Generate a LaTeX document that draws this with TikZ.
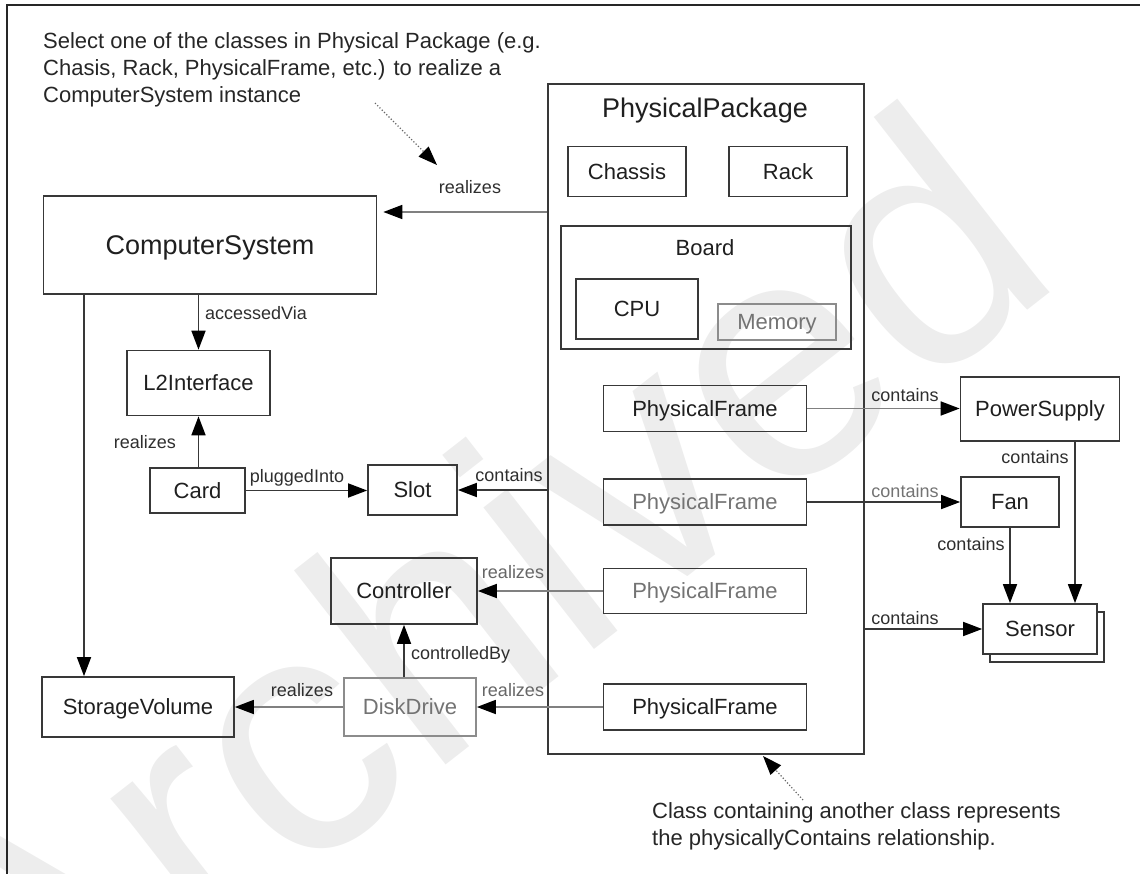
\documentclass[tikz,border=0pt]{standalone}
\usepackage{fontspec}
\setmainfont{Liberation Sans}
\usetikzlibrary{arrows.meta}
\begin{document}
\begin{tikzpicture}[x=1pt,y=-1pt,
  box/.style={draw=black!78, line width=1.7pt, inner sep=0pt,
    text=black!88, font=\fontsize{22}{25}\selectfont, text height=15.8pt, text depth=0pt},
  faded/.style={draw=black!45, text=black!55},
  bigbox/.style={box, font=\fontsize{27}{30}\selectfont, text height=19.4pt},
  title/.style={inner sep=0pt, text=black!88, text depth=0pt},
  lbl/.style={inner sep=0pt, text=black!82, font=\fontsize{18}{20}\selectfont,
    text height=13pt, text depth=0pt},
  note/.style={inner sep=0pt, text=black!85, font=\fontsize{22}{27}\selectfont, align=left},
  conn/.style={draw=black!78, line width=1.7pt,
    -{Triangle[length=19pt,width=14pt,color=black]}},
  pale/.style={draw=black!50},
  hint/.style={draw=black!60, line width=1.2pt, dotted,
    -{Triangle[length=19pt,width=14pt,color=black]}},
  stamp/.style={inner sep=0pt, text=black!7, font=\fontsize{340}{340}\selectfont},
]
\useasboundingbox (0,0) rectangle (1140,874);

% light stamp behind the drawing
\node[stamp, rotate=38, anchor=base west] (stampword) at (25,1094) {Archived};

% page frame
\draw[line width=1.6pt, black!85] (7,874) -- (7,5) -- (1140,5);

% explanatory notes
\node[note, anchor=north west] (note1) at (43,32)
  {Select one of the classes in Physical Package (e.g.\\Chasis, Rack, PhysicalFrame, etc.) to realize a\\ComputerSystem instance};
\node[note, anchor=north west] (note2) at (652,802)
  {Class containing another class represents\\the physicallyContains relationship.};

% the physical package and its contents
\node[box, minimum width=316pt, minimum height=670pt] (pkg) at (706,419) {};
\node[title, font=\fontsize{27}{30}\selectfont, text height=19.4pt] (pkgtitle) at (705,108) {PhysicalPackage};
\node[box, minimum width=118pt, minimum height=50pt] (chassis) at (627,171.5) {Chassis};
\node[box, minimum width=118pt, minimum height=50pt] (rack) at (788,171.5) {Rack};
\node[box, minimum width=290pt, minimum height=123pt] (board) at (706,287.5) {};
\node[title, font=\fontsize{22}{25}\selectfont, text height=15.8pt] (boardtitle) at (705,248) {Board};
\node[box, minimum width=122pt, minimum height=60pt] (cpu) at (637,309) {CPU};
\node[box, faded, minimum width=118pt, minimum height=36pt] (mem) at (777,322) {Memory};
\node[box, minimum width=203pt, minimum height=46pt] (pf1) at (705,408.5) {PhysicalFrame};
\node[box, minimum width=203pt, minimum height=46pt, text=black!55] (pf2) at (705,502) {PhysicalFrame};
\node[box, minimum width=203pt, minimum height=45pt, text=black!55] (pf3) at (705,591) {PhysicalFrame};
\node[box, minimum width=203pt, minimum height=46pt] (pf4) at (705,707) {PhysicalFrame};

% logical classes
\node[bigbox, minimum width=333pt, minimum height=98pt] (cs) at (210,245) {ComputerSystem};
\node[box, minimum width=143pt, minimum height=65pt] (l2) at (198.5,383) {L2Interface};
\node[box, minimum width=95pt, minimum height=45pt] (card) at (197.5,490.5) {Card};
\node[box, minimum width=89pt, minimum height=50pt] (slot) at (412.5,490) {Slot};
\node[box, minimum width=146pt, minimum height=66pt] (ctrl) at (404,591) {Controller};
\node[box, faded, minimum width=132pt, minimum height=58pt] (disk) at (410,707) {DiskDrive};
\node[box, minimum width=192pt, minimum height=60pt] (sv) at (138,707) {StorageVolume};

% classes outside the package
\node[box, minimum width=159pt, minimum height=64pt] (ps) at (1040,409) {PowerSupply};
\node[box, minimum width=98pt, minimum height=50pt] (fan) at (1010,502) {Fan};
\node[box, fill=white, minimum width=114pt, minimum height=50pt] (sensorback) at (1047,637) {};
\node[box, fill=white, minimum width=114pt, minimum height=50pt] (sensor) at (1040,629) {Sensor};

% connectors
\coordinate (rzy) at (0,212);
\coordinate (svx) at (84,0);
\coordinate (psx) at (1075,0);
\draw[conn, pale, shorten >=6pt] (pkg.west |- rzy) -- (cs.east |- rzy);
\draw[conn] (cs.south -| l2.north) -- (l2.north);
\draw[conn] (card.north -| l2.south) -- (l2.south);
\draw[conn] (card.east) -- (card.east -| slot.west);
\draw[conn] (pkg.west |- slot.east) -- (slot.east);
\draw[conn, pale] (pf3.west) -- (pf3.west -| ctrl.east);
\draw[conn, pale] (pf4.west) -- (pf4.west -| disk.east);
\draw[conn, pale] (disk.west) -- (disk.west -| sv.east);
\draw[conn] (disk.north -| ctrl.south) -- (ctrl.south);
\draw[conn] (cs.south -| svx) -- (sv.north -| svx);
\draw[conn, pale] (pf1.east) -- (pf1.east -| ps.west);
\draw[conn] (pf2.east) -- (pf2.east -| fan.west);
\draw[conn] (pkg.east |- sensor.west) -- (sensor.west);
\draw[conn] (ps.south -| psx) -- (sensor.north -| psx);
\draw[conn] (fan.south) -- (fan.south |- sensor.north);

% connector labels
\node[lbl] (l-rz1) at (470,187) {realizes};
\node[lbl, anchor=west] (l-acc) at (205,313) {accessedVia};
\node[lbl, anchor=east] (l-rz2) at (176,442) {realizes};
\node[lbl] (l-plug) at (297,476) {pluggedInto};
\node[lbl] (l-ct1) at (509,475) {contains};
\node[lbl, text=black!60] (l-rz3) at (513,572) {realizes};
\node[lbl, text=black!60] (l-rz4) at (513,690) {realizes};
\node[lbl] (l-rz5) at (302,690) {realizes};
\node[lbl, anchor=west] (l-ctl) at (411,653) {controlledBy};
\node[lbl] (l-ct2) at (905,395) {contains};
\node[lbl, text=black!55] (l-ct3) at (905,491) {contains};
\node[lbl] (l-ct4) at (905,618) {contains};
\node[lbl] (l-ct5) at (1035,457) {contains};
\node[lbl] (l-ct6) at (971,544) {contains};

% dotted pointers from the notes
\coordinate (hintA) at (375,103);
\coordinate (hintAend) at (437,165);
\coordinate (hintB) at (803,800);
\coordinate (hintBend) at (763,756);
\draw[hint] (hintA) -- (hintAend);
\draw[hint] (hintB) -- (hintBend);
\end{tikzpicture}
\end{document}
